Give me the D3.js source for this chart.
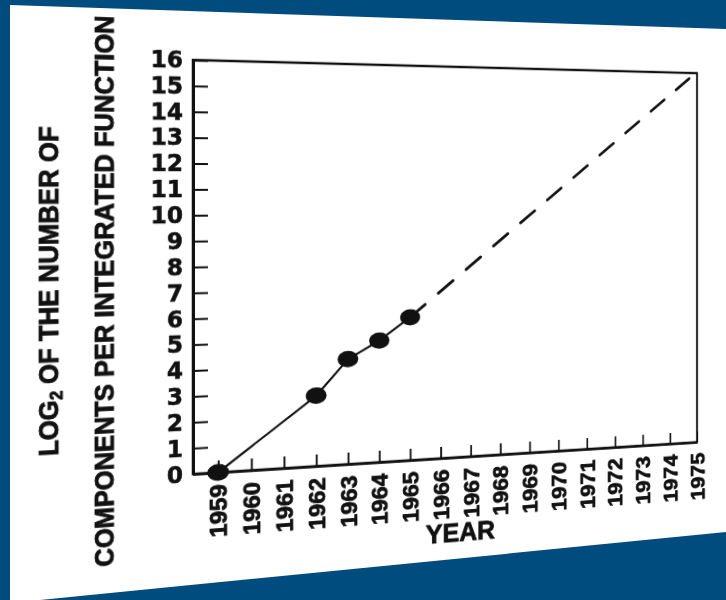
<!DOCTYPE html>
<html>
<head>
<meta charset="utf-8">
<script src="https://cdn.jsdelivr.net/npm/d3@7"></script>
<style>
  html, body { margin: 0; padding: 0; width: 726px; height: 600px; overflow: hidden; background: #004c7f; }
  #bg { position: absolute; left: 0; top: 0; }
  #sheet { position: absolute; left: 0; top: 0; width: 820px; height: 640px; transform-origin: 0 0; filter: blur(0.35px); }
  svg { display: block; }
  text { font-family: "Liberation Sans", Arial, Helvetica, sans-serif; font-weight: bold; fill: #111; }
</style>
</head>
<body>
<svg id="bg" width="726" height="600"></svg>
<div id="sheet"></div>
<script>
// values
var years = [1959, 1962, 1963, 1964, 1965];
var logCounts = [0, 2.8, 4.2, 4.9, 5.8];
var projYears = [1965, 1974.75];
var projCounts = [5.8, 15.8];

var yearTicks = [1959, 1960, 1961, 1962, 1963, 1964, 1965, 1966, 1967,
                 1968, 1969, 1970, 1971, 1972, 1973, 1974, 1975];
var valueTicks = [0, 1, 2, 3, 4, 5, 6, 7, 8, 9, 10, 11, 12, 13, 14, 15, 16];

var yTitle1 = 'LOG', yTitleSub = '2', yTitle1b = ' OF THE NUMBER OF';
var yTitle2 = 'COMPONENTS PER INTEGRATED FUNCTION';
var xTitle = 'YEAR';

// slide background + the white scanned page
var bg = d3.select('#bg');
bg.append('polygon')
  .attr('points', '10,5 726,29 726,532 60,598 40,600 10,600')
  .attr('fill', '#fff');

// flat chart, later bent with a perspective transform
var W = 820, H = 640;
var plot = { left: 193, top: 60, width: 565.5, height: 414 };

var svg = d3.select('#sheet').append('svg').attr('width', W).attr('height', H);

var x = d3.scaleLinear().domain([1958.25, 1975]).range([plot.left, plot.left + plot.width]);
var y = d3.scaleLinear().domain([0, 16]).range([plot.top + plot.height, plot.top]);

// frame
svg.append('rect')
  .attr('x', plot.left).attr('y', plot.top)
  .attr('width', plot.width).attr('height', plot.height)
  .attr('fill', 'none').attr('stroke', '#111').attr('stroke-width', 2.5);

var yAxis = d3.axisLeft(y).tickValues(valueTicks).tickSize(-15).tickSizeOuter(0).tickPadding(10);
var gy = svg.append('g').attr('transform', 'translate(' + plot.left + ',0)').call(yAxis);
gy.attr('font-family', null).attr('font-size', null);
gy.select('.domain').attr('stroke', '#111').attr('stroke-width', 3);
gy.selectAll('.tick line').attr('stroke', '#111').attr('stroke-width', 2);
gy.selectAll('.tick text')
  .style('font-family', '"DejaVu Sans", sans-serif').style('font-size', '23px')
  .attr('fill', '#111').attr('stroke', '#111').attr('stroke-width', 0.6);

var xAxis = d3.axisBottom(x).tickValues(yearTicks).tickFormat(d3.format('d'))
  .tickSize(-12).tickSizeOuter(0);
var gx = svg.append('g').attr('transform', 'translate(0,' + (plot.top + plot.height) + ')').call(xAxis);
gx.attr('font-family', null).attr('font-size', null);
gx.select('.domain').attr('stroke', '#111').attr('stroke-width', 2.5);
gx.selectAll('.tick line').attr('stroke', '#111').attr('stroke-width', 2);
gx.selectAll('.tick text')
  .style('font-size', '24px')
  .attr('fill', '#111').attr('stroke', '#111').attr('stroke-width', 0.8)
  .attr('transform', 'rotate(-90)')
  .attr('x', -12).attr('y', 0).attr('dy', '0.36em')
  .attr('text-anchor', 'end');
svg.selectAll('.domain, .tick line').attr('fill', 'none');

// measured points and the extrapolation
var pts = years.map(function(d, i) { return [d, logCounts[i]]; });
var proj = projYears.map(function(d, i) { return [d, projCounts[i]]; });
var line = d3.line().x(function(d) { return x(d[0]); }).y(function(d) { return y(d[1]); });

svg.append('path').attr('d', line(pts))
  .attr('fill', 'none').attr('stroke', '#111').attr('stroke-width', 2.2);
svg.append('path').attr('d', line(proj))
  .attr('fill', 'none').attr('stroke', '#111').attr('stroke-width', 3)
  .attr('stroke-linecap', 'round')
  .attr('stroke-dasharray', '21,18.6');

svg.selectAll('ellipse.pt').data(pts).enter().append('ellipse')
  .attr('class', 'pt')
  .attr('cx', function(d) { return x(d[0]); })
  .attr('cy', function(d) { return y(d[1]); })
  .attr('rx', 11).attr('ry', 8.5)
  .attr('fill', '#111');

// axis titles
var t1 = svg.append('text')
  .attr('transform', 'translate(53,288) rotate(-90)')
  .attr('text-anchor', 'middle').attr('dominant-baseline', 'central')
  .style('font-size', '25px').attr('stroke', '#111').attr('stroke-width', 0.8);
t1.append('tspan').text(yTitle1);
t1.append('tspan').text(yTitleSub).style('font-size', '16px').attr('dy', 7);
t1.append('tspan').text(yTitle1b).attr('dy', -7);

svg.append('text')
  .attr('transform', 'translate(106,289) rotate(-90)')
  .attr('text-anchor', 'middle').attr('dominant-baseline', 'central')
  .style('font-size', '25px').attr('stroke', '#111').attr('stroke-width', 0.8)
  .text(yTitle2);

svg.append('text')
  .attr('x', 477).attr('y', 553)
  .attr('text-anchor', 'middle').attr('dominant-baseline', 'central')
  .style('font-size', '28px').attr('stroke', '#111').attr('stroke-width', 0.8)
  .text(xTitle);

// perspective of the photographed page: left edge unchanged, right side farther away
var x0 = plot.left, yc = 181, g = 0.122 / plot.width;
var m = [
  1 + g * x0, g * yc, 0, g,
  0, 1, 0, 0,
  0, 0, 1, 0,
  -g * x0 * x0, -g * x0 * yc, 0, 1 - g * x0
];
d3.select('#sheet').style('transform', 'matrix3d(' + m.join(',') + ')');
</script>
</body>
</html>
